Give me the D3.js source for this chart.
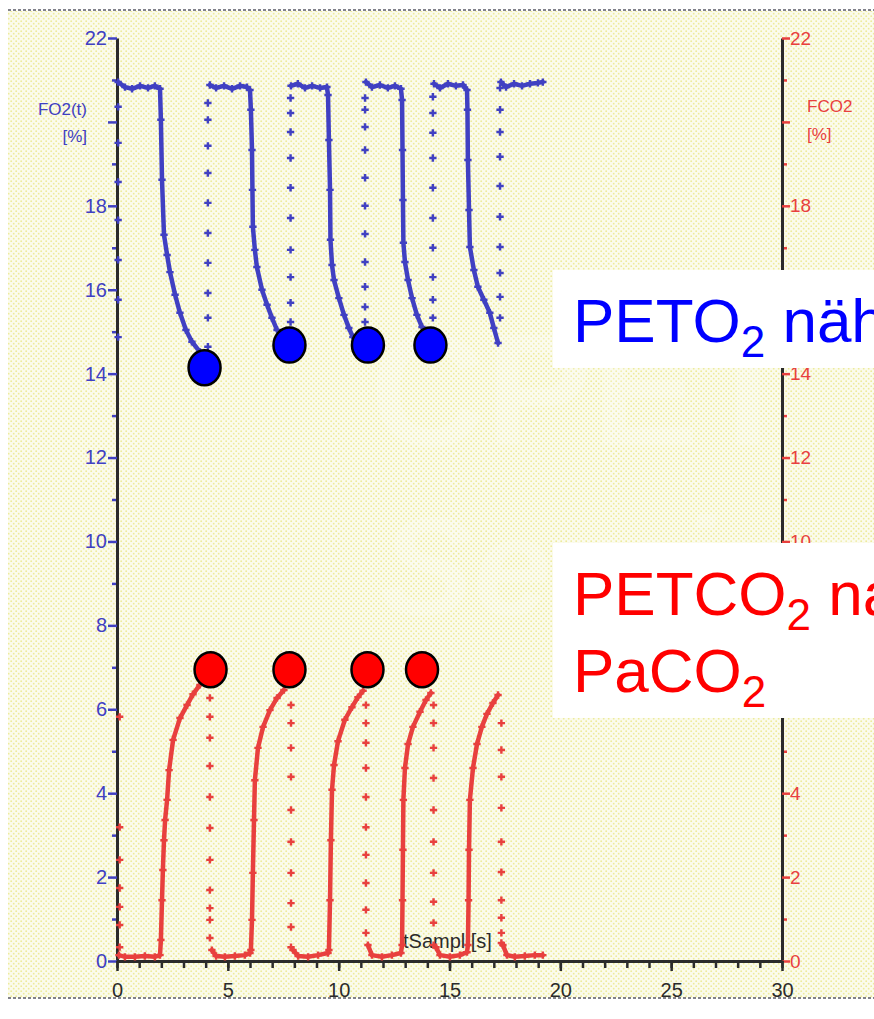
<!DOCTYPE html>
<html>
<head>
<meta charset="utf-8">
<script src="https://cdn.jsdelivr.net/npm/d3@7"></script>
<style>
html, body { margin: 0; padding: 0; background: #fff; }
svg { display: block; font-family: 'Liberation Sans', Arial, sans-serif; }
</style>
</head>
<body>
<div id="chart"></div>
<script>
// values (t in s, values in %)
const xTicks = [0, 5, 10, 15, 20, 25, 30];
const yTicks = [0, 2, 4, 6, 8, 10, 12, 14, 16, 18, 20, 22];
// the scan leaves some tick labels out (room for the axis titles) or under the slide boxes
const leftLabels = [0, 2, 4, 6, 8, 10, 12, 14, 16, 18, 22];
const rightLabels = [0, 2, 4, 10, 12, 14, 18, 22];

// dense stretches of the O2 trace (plateau + fall)
const o2Dense = [
    [[0.05, 20.95], [0.36, 20.83], [0.68, 20.79], [1.04, 20.86], [1.40, 20.81], [1.71, 20.86], [1.94, 20.79],
     [1.98, 20.05], [2.03, 18.62], [2.12, 17.31], [2.26, 16.83], [2.39, 16.42], [2.62, 15.88], [2.84, 15.45],
     [3.11, 15.04], [3.38, 14.76], [3.74, 14.52]],
    [[4.19, 20.88], [4.47, 20.81], [4.83, 20.86], [5.19, 20.79], [5.55, 20.86], [5.86, 20.83], [6.00, 20.76],
     [6.04, 20.29], [6.09, 19.33], [6.11, 18.38], [6.13, 17.50], [6.22, 16.95], [6.31, 16.54], [6.54, 16.00],
     [6.77, 15.64], [6.99, 15.33], [7.22, 15.04]],
    [[7.85, 20.86], [8.16, 20.91], [8.48, 20.81], [8.80, 20.86], [9.16, 20.81], [9.47, 20.83],
     [9.52, 20.64], [9.56, 19.57], [9.61, 18.38], [9.63, 17.19], [9.70, 16.59], [9.79, 16.23], [10.01, 15.80],
     [10.24, 15.40], [10.46, 15.09], [10.64, 14.87]],
    [[11.23, 20.95], [11.50, 20.83], [11.86, 20.88], [12.22, 20.81], [12.54, 20.86], [12.81, 20.79],
     [12.86, 20.52], [12.88, 19.33], [12.90, 18.14], [12.92, 17.12], [12.99, 16.66], [13.13, 16.23],
     [13.31, 15.80], [13.53, 15.40], [13.76, 15.11]],
    [[14.30, 20.91], [14.57, 20.81], [14.93, 20.91], [15.29, 20.86], [15.61, 20.88], [15.79, 20.76],
     [15.81, 20.29], [15.83, 19.09], [15.88, 17.90], [15.92, 17.02], [16.10, 16.47], [16.28, 16.07],
     [16.55, 15.76], [16.82, 15.45], [17.00, 15.09], [17.19, 14.73]],
    [[17.32, 20.95], [17.55, 20.83], [17.91, 20.91], [18.27, 20.86], [18.63, 20.91], [18.99, 20.93], [19.21, 20.95]]
];

// sparse samples during the fast O2 rise (one column per breath)
const o2Sparse = [
    {t: 0.05, v: [14.87, 15.76, 16.71, 17.66, 18.57, 19.50, 20.36]},
    {t: 4.10, v: [14.64, 15.33, 15.92, 16.64, 17.35, 18.07, 18.78, 19.43, 20.05, 20.45]},
    {t: 7.83, v: [15.23, 15.69, 16.30, 16.95, 17.71, 18.43, 19.14, 19.76, 20.21, 20.57]},
    {t: 11.19, v: [15.23, 15.59, 16.07, 16.66, 17.33, 18.00, 18.67, 19.33, 19.88, 20.29, 20.57]},
    {t: 14.25, v: [15.33, 15.76, 16.30, 17.00, 17.71, 18.43, 19.14, 19.74, 20.21, 20.60]},
    {t: 17.28, v: [15.33, 15.83, 16.40, 17.02, 17.74, 18.47, 19.17, 19.76, 20.29, 20.81]}
];

// dense stretches of the CO2 trace (baseline + rise)
const co2Dense = [
    [[0.09, 0.14], [0.36, 0.10], [0.81, 0.10], [1.26, 0.12], [1.71, 0.10], [1.94, 0.14],
     [1.98, 0.50], [2.03, 1.45], [2.07, 2.17], [2.12, 2.88], [2.17, 3.36], [2.26, 3.84], [2.35, 4.55],
     [2.53, 5.27], [2.84, 5.79], [3.16, 6.10], [3.43, 6.36], [3.74, 6.58]],
    [[4.28, 0.26], [4.47, 0.12], [4.87, 0.10], [5.32, 0.12], [5.77, 0.14], [6.00, 0.19],
     [6.04, 0.26], [6.09, 0.98], [6.13, 2.10], [6.18, 3.36], [6.22, 4.31], [6.36, 5.08], [6.59, 5.58],
     [6.90, 5.98], [7.22, 6.27], [7.53, 6.46]],
    [[7.94, 0.26], [8.17, 0.12], [8.62, 0.10], [9.07, 0.14], [9.52, 0.19],
     [9.56, 0.26], [9.61, 1.45], [9.65, 2.88], [9.70, 4.08], [9.79, 4.67], [9.97, 5.24], [10.28, 5.75],
     [10.60, 6.05], [10.87, 6.29], [11.10, 6.44]],
    [[11.32, 0.38], [11.50, 0.14], [11.95, 0.10], [12.40, 0.14], [12.81, 0.19],
     [12.86, 0.38], [12.88, 1.45], [12.90, 2.65], [12.92, 3.84], [12.99, 4.60], [13.13, 5.17], [13.35, 5.58],
     [13.67, 5.94], [13.94, 6.22], [14.16, 6.39]],
    [[14.39, 0.33], [14.57, 0.14], [15.02, 0.10], [15.47, 0.14], [15.79, 0.21],
     [15.83, 0.38], [15.86, 1.45], [15.88, 2.65], [15.92, 3.84], [16.06, 4.60], [16.24, 5.17], [16.46, 5.58],
     [16.69, 5.89], [16.96, 6.15], [17.19, 6.34]],
    [[17.41, 0.38], [17.59, 0.14], [17.95, 0.10], [18.40, 0.12], [18.85, 0.14], [19.21, 0.14]]
];

// sparse samples during the fast CO2 fall
const co2Sparse = [
    {t: 0.12, v: [5.82, 3.19, 2.41, 1.74, 1.29, 0.86, 0.33]},
    {t: 4.19, v: [6.27, 5.82, 5.32, 4.65, 3.91, 3.17, 2.41, 1.69, 1.26, 0.98, 0.55]},
    {t: 7.85, v: [6.10, 5.67, 5.08, 4.39, 3.60, 2.84, 2.10, 1.38, 0.81, 0.33]},
    {t: 11.23, v: [6.10, 5.67, 5.20, 4.60, 3.91, 3.19, 2.53, 1.86, 1.22, 0.67]},
    {t: 14.28, v: [6.10, 5.67, 5.08, 4.36, 3.60, 2.84, 2.10, 1.41, 0.91, 0.38]},
    {t: 17.34, v: [5.67, 5.03, 4.39, 3.65, 2.84, 2.12, 1.45, 1.03, 0.67, 0.43]}
];

// end-tidal points marked on the slide
const o2Marks = [[3.95, 14.14], [7.78, 14.68], [11.32, 14.68], [14.14, 14.68]];
const co2Marks = [[4.22, 6.94], [7.78, 6.94], [11.30, 6.94], [13.76, 6.94]];

const BLUE = '#4040c2';
const RED = '#e8403e';
const AXIS = '#2b2b2b';

const W = 874, H = 1019;
const x = d3.scaleLinear().domain([0, 30]).range([117, 782]);
const y = d3.scaleLinear().domain([0, 22]).range([961, 38]);

const svg = d3.select('#chart').append('svg')
    .attr('width', W)
    .attr('height', H);

// scanned paper texture
const pat = svg.append('defs').append('pattern')
    .attr('id', 'paper')
    .attr('width', 5).attr('height', 5)
    .attr('patternUnits', 'userSpaceOnUse');
pat.append('rect').attr('width', 5).attr('height', 5).attr('fill', '#fbfbec');
pat.append('circle').attr('cx', 1.2).attr('cy', 1.2).attr('r', 0.9).attr('fill', '#eeeb9a');
pat.append('circle').attr('cx', 3.7).attr('cy', 3.7).attr('r', 0.9).attr('fill', '#eeeb9a');

svg.append('rect').attr('width', W).attr('height', H).attr('fill', '#fff');
svg.append('rect').attr('x', 8).attr('y', 11).attr('width', W - 8).attr('height', 987).attr('fill', 'url(#paper)');

[10, 998].forEach(yy => {
    svg.append('line')
        .attr('x1', 8).attr('x2', W).attr('y1', yy).attr('y2', yy)
        .attr('stroke', '#5a5a66').attr('stroke-width', 1.3)
        .attr('stroke-dasharray', '3,2');
});

// faint watermark
const wm = svg.append('g').attr('fill', '#ffffff').attr('opacity', 0.2).attr('font-weight', 'bold');
wm.append('text').attr('x', 370).attr('y', 445).attr('font-size', 160).text('CPET');
wm.append('text').attr('x', 380).attr('y', 615).attr('font-size', 140).attr('font-style', 'italic').text('Seminar');

// axes
const g = svg.append('g');

function styleTicks(sel, color, size) {
    sel.selectAll('.tick line').attr('stroke', color).attr('stroke-width', 2.5);
    sel.selectAll('.tick text').attr('fill', color).attr('font-size', size)
        .attr('font-family', 'Liberation Sans, Arial, sans-serif');
}

const leftMinor = g.append('g')
    .attr('transform', `translate(${x(0)},0)`)
    .call(d3.axisLeft(y).tickValues(d3.range(1, 22, 2)).tickSize(5).tickSizeOuter(0).tickFormat(''));
leftMinor.select('.domain').remove();
styleTicks(leftMinor, BLUE, 20);

const left = g.append('g')
    .attr('transform', `translate(${x(0)},0)`)
    .call(d3.axisLeft(y).tickValues(yTicks).tickSize(9).tickPadding(1).tickSizeOuter(0)
        .tickFormat(d => leftLabels.includes(d) ? d : ''));
left.select('.domain').attr('stroke', AXIS).attr('stroke-width', 3);
styleTicks(left, BLUE, 20);

const rightMinor = g.append('g')
    .attr('transform', `translate(${x(30)},0)`)
    .call(d3.axisRight(y).tickValues(d3.range(1, 22, 2)).tickSize(5).tickSizeOuter(0).tickFormat(''));
rightMinor.select('.domain').remove();
styleTicks(rightMinor, RED, 19);

const right = g.append('g')
    .attr('transform', `translate(${x(30)},0)`)
    .call(d3.axisRight(y).tickValues(yTicks).tickSize(8).tickPadding(0).tickSizeOuter(0)
        .tickFormat(d => rightLabels.includes(d) ? d : ''));
right.select('.domain').attr('stroke', AXIS).attr('stroke-width', 3);
styleTicks(right, RED, 19);

const bottomMinor = g.append('g')
    .attr('transform', `translate(0,${y(0)})`)
    .call(d3.axisBottom(x).tickValues(d3.range(0, 31)).tickSize(7).tickSizeOuter(0).tickFormat(''));
bottomMinor.select('.domain').remove();
styleTicks(bottomMinor, AXIS, 20);

const bottom = g.append('g')
    .attr('transform', `translate(0,${y(0)})`)
    .call(d3.axisBottom(x).tickValues(xTicks).tickSize(10).tickPadding(12).tickSizeOuter(0));
bottom.select('.domain').attr('stroke', AXIS).attr('stroke-width', 3);
styleTicks(bottom, AXIS, 20);

// axis titles
const titles = svg.append('g').attr('font-size', 17);
titles.append('text').attr('x', 87).attr('y', 115).attr('text-anchor', 'end').attr('fill', BLUE).text('FO2(t)');
titles.append('text').attr('x', 87).attr('y', 142).attr('text-anchor', 'end').attr('fill', BLUE).text('[%]');
titles.append('text').attr('x', 807).attr('y', 112).attr('fill', RED).text('FCO2');
titles.append('text').attr('x', 807).attr('y', 140).attr('fill', RED).text('[%]');
titles.append('text').attr('x', 403).attr('y', 948).attr('font-size', 20).attr('fill', AXIS).text('tSampl [s]');

// traces
const line = d3.line().x(d => x(d[0])).y(d => y(d[1]));
const plus = d3.symbol().type(d3.symbolCross).size(30);

function drawTrace(dense, sparse, color) {
    const tg = svg.append('g');
    tg.selectAll('.dense')
        .data(dense)
        .enter().append('path')
        .attr('fill', 'none')
        .attr('stroke', color)
        .attr('stroke-width', 4.5)
        .attr('stroke-linejoin', 'round')
        .attr('stroke-linecap', 'round')
        .attr('d', line);
    const pts = [].concat(...dense);
    sparse.forEach(c => c.v.forEach(v => pts.push([c.t, v])));
    tg.selectAll('.pt')
        .data(pts)
        .enter().append('path')
        .attr('transform', d => `translate(${x(d[0])},${y(d[1])})`)
        .attr('d', plus)
        .attr('fill', color);
}

drawTrace(co2Dense, co2Sparse, RED);
drawTrace(o2Dense, o2Sparse, BLUE);

// end-tidal markers
function drawMarks(data, color) {
    svg.append('g').selectAll('ellipse')
        .data(data)
        .enter().append('ellipse')
        .attr('cx', d => x(d[0]))
        .attr('cy', d => y(d[1]))
        .attr('rx', 16)
        .attr('ry', 17.5)
        .attr('fill', color)
        .attr('stroke', '#000')
        .attr('stroke-width', 2.5);
}
drawMarks(o2Marks, '#0000ff');
drawMarks(co2Marks, '#ff0000');

// slide annotations
const boxes = svg.append('g');
boxes.append('rect').attr('x', 553).attr('y', 270).attr('width', W - 553).attr('height', 98).attr('fill', '#fff');
boxes.append('rect').attr('x', 553).attr('y', 543).attr('width', W - 553).attr('height', 175).attr('fill', '#fff');

function subText(xx, yy, color, parts) {
    const t = boxes.append('text')
        .attr('x', xx).attr('y', yy)
        .attr('fill', color)
        .attr('font-size', 62);
    parts.forEach(p => {
        if (p.sub) {
            t.append('tspan').attr('dy', 15).attr('font-size', 44).text(p.s);
        } else {
            t.append('tspan').attr('dy', p.after ? -15 : 0).text(p.s);
        }
    });
}
subText(573, 342, '#0000ff', [{s: 'PETO'}, {s: '2', sub: true}, {s: '\u00a0näh', after: true}]);
subText(573, 615, '#ff0000', [{s: 'PETCO'}, {s: '2', sub: true}, {s: '\u00a0na', after: true}]);
subText(573, 692, '#ff0000', [{s: 'PaCO'}, {s: '2', sub: true}]);
</script>
</body>
</html>
